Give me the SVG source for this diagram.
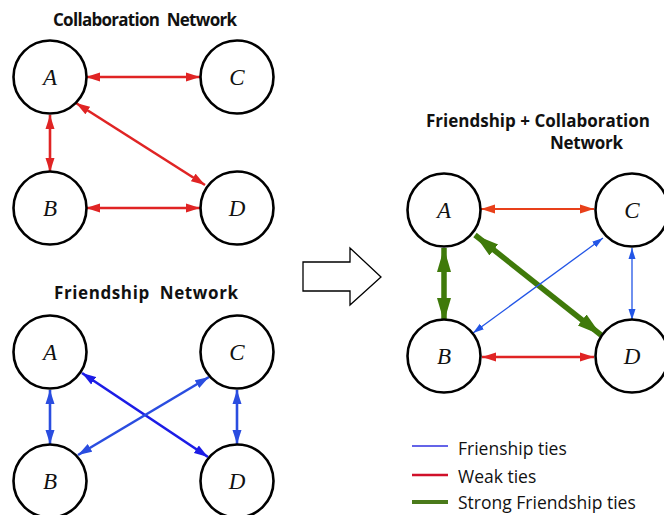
<svg xmlns="http://www.w3.org/2000/svg" width="664" height="515" viewBox="0 0 664 515">
<defs>
<style>
.node{fill:#fff;stroke:#000;stroke-width:2.6}
.lbl{font-family:"Liberation Serif",serif;font-style:italic;font-size:23px;text-anchor:middle;fill:#111}
.title{font-family:"Open Sans","Liberation Sans",sans-serif;font-weight:bold;font-size:17px;fill:#111}
.leg{font-family:"Open Sans","Liberation Sans",sans-serif;font-size:17.5px;fill:#111}
.red{stroke:#e02424;stroke-width:2.6;fill:none;marker-start:url(#mr);marker-end:url(#mr)}
.blue{stroke:#2a4de0;stroke-width:2.6;fill:none;marker-start:url(#mb);marker-end:url(#mb)}
.thinblue{stroke:#2255e6;stroke-width:1.3;fill:none;marker-start:url(#mtb);marker-end:url(#mtb)}
.green{stroke:#3f7a0a;stroke-width:5.5;fill:none;marker-start:url(#mg);marker-end:url(#mg)}
</style>
<marker id="mr" markerUnits="userSpaceOnUse" markerWidth="15" markerHeight="10" refX="14" refY="5" orient="auto-start-reverse"><path d="M0,0.5 L14,5 L0,9.5 z" fill="#e02424"/></marker>
<marker id="mro" markerUnits="userSpaceOnUse" markerWidth="15" markerHeight="10" refX="14" refY="5" orient="auto-start-reverse"><path d="M0,0.5 L14,5 L0,9.5 z" fill="#e8401a"/></marker>
<marker id="mb" markerUnits="userSpaceOnUse" markerWidth="15" markerHeight="10" refX="14" refY="5" orient="auto-start-reverse"><path d="M0,0.5 L14,5 L0,9.5 z" fill="#2a4de0"/></marker>
<marker id="mbd" markerUnits="userSpaceOnUse" markerWidth="15" markerHeight="10" refX="14" refY="5" orient="auto-start-reverse"><path d="M0,0.5 L14,5 L0,9.5 z" fill="#1c1ce6"/></marker>
<marker id="mtb" markerUnits="userSpaceOnUse" markerWidth="12" markerHeight="8" refX="11" refY="4" orient="auto-start-reverse"><path d="M0,0.5 L11,4 L0,7.5 z" fill="#2255e6"/></marker>
<marker id="mg" markerUnits="userSpaceOnUse" markerWidth="26" markerHeight="16" refX="24" refY="8" orient="auto-start-reverse"><path d="M0,1 L24,8 L0,15 z" fill="#3f7a0a"/></marker>
</defs>
<rect width="664" height="515" fill="#fff"/>

<g id="titles">
<text class="title" x="53" y="26" textLength="184" xml:space="preserve">Collaboration  Network</text>
<text class="title" x="54" y="299" textLength="184" xml:space="preserve">Friendship  Network</text>
<text class="title" x="426" y="127" textLength="224">Friendship + Collaboration</text>
<text class="title" x="550" y="149" textLength="73">Network</text>
</g>

<g id="connectors">
<line class="red" x1="86" y1="77" x2="200" y2="77"/>
<line class="red" x1="50" y1="115" x2="50" y2="172"/>
<line class="red" x1="76" y1="103" x2="205" y2="185"/>
<line class="red" x1="86" y1="208" x2="200" y2="208"/>

<line class="blue" x1="50" y1="390" x2="50" y2="444"/>
<line class="blue" x1="237" y1="390" x2="237" y2="444"/>
<line class="blue" x1="82" y1="373" x2="208" y2="457" style="stroke:#1c1ce6;marker-start:url(#mbd);marker-end:url(#mbd)"/>
<line class="blue" x1="209" y1="377" x2="78" y2="455"/>

<line class="red" x1="481" y1="209" x2="594" y2="209" style="stroke:#e8401a;stroke-width:2;marker-start:url(#mro);marker-end:url(#mro)"/>
<line class="green" x1="444" y1="248" x2="444" y2="322"/>
<line class="green" x1="475" y1="235" x2="601" y2="335"/>
<line class="thinblue" x1="473" y1="333" x2="603" y2="238"/>
<line class="thinblue" x1="632" y1="248" x2="632" y2="320"/>
<line class="red" x1="482" y1="357" x2="594" y2="357"/>
</g>

<g id="collab-A"><circle class="node" cx="50" cy="77" r="36.5"/><text class="lbl" x="50" y="85">A</text></g>
<g id="collab-C"><circle class="node" cx="237" cy="77" r="36.5"/><text class="lbl" x="237" y="85">C</text></g>
<g id="collab-B"><circle class="node" cx="50" cy="208" r="36.5"/><text class="lbl" x="50" y="216">B</text></g>
<g id="collab-D"><circle class="node" cx="237" cy="208" r="36.5"/><text class="lbl" x="237" y="216">D</text></g>

<g id="friend-A"><circle class="node" cx="50" cy="352" r="36.5"/><text class="lbl" x="50" y="360">A</text></g>
<g id="friend-C"><circle class="node" cx="237" cy="352" r="36.5"/><text class="lbl" x="237" y="360">C</text></g>
<g id="friend-B"><circle class="node" cx="50" cy="481" r="36.5"/><text class="lbl" x="50" y="489">B</text></g>
<g id="friend-D"><circle class="node" cx="237" cy="481" r="36.5"/><text class="lbl" x="237" y="489">D</text></g>

<g id="combo-A"><circle class="node" cx="444" cy="210" r="36.5"/><text class="lbl" x="444" y="218">A</text></g>
<g id="combo-C"><circle class="node" cx="632" cy="210" r="36.5"/><text class="lbl" x="632" y="218">C</text></g>
<g id="combo-B"><circle class="node" cx="444" cy="356" r="36.5"/><text class="lbl" x="444" y="364">B</text></g>
<g id="combo-D"><circle class="node" cx="632" cy="356" r="36.5"/><text class="lbl" x="632" y="364">D</text></g>

<g id="big-arrow"><path d="M303,262 L350,262 L350,248 L381,277 L350,305 L350,291 L303,291 z" fill="#fff" stroke="#000" stroke-width="1.3"/></g>

<g id="legend">
<line x1="412" y1="446" x2="448" y2="446" stroke="#3030e0" stroke-width="1.3"/>
<line x1="412" y1="475" x2="448" y2="475" stroke="#d0102a" stroke-width="2.6"/>
<line x1="412" y1="502" x2="448" y2="502" stroke="#4a7a1a" stroke-width="4"/>
<text class="leg" x="458" y="455">Frienship ties</text>
<text class="leg" x="458" y="483">Weak ties</text>
<text class="leg" x="458" y="509">Strong Friendship ties</text>
</g>
</svg>
